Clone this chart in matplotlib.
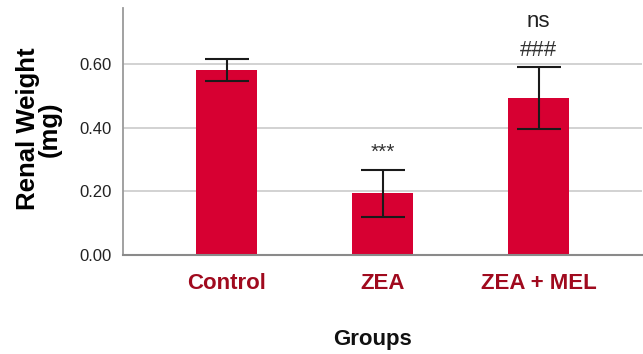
"""
Renal weight by treatment group, bar chart with error bars
"""

import numpy as np
import matplotlib.pyplot as plt

groups = ["Control", "ZEA", "ZEA + MEL"]
means = [0.581, 0.194, 0.493]
errs = [0.034, 0.074, 0.098]
marks = ["", "***", "###"]

plt.rcParams["font.family"] = ["Liberation Sans", "DejaVu Sans"]

fig = plt.figure(figsize=(6.43, 3.54), dpi=100)
ax = fig.add_axes([0.1913, 0.2797, 0.8077, 0.6973])

x = np.arange(len(groups))
ax.bar(x, means, width=0.394, color="#D70032", zorder=2)
ax.errorbar(x, means, yerr=errs, fmt="none", ecolor="#1a1a1a",
            elinewidth=1.5, capsize=16, capthick=1.5, zorder=3)

# significance marks above the error bars
ax.text(x[1], 0.322, marks[1], ha="center", va="center", fontsize=15, color="#333333")
ax.text(x[2], 0.643, marks[2], ha="center", va="center", fontsize=16, color="#333333")
ax.text(x[2], 0.735, "ns", ha="center", va="center", fontsize=16, color="#222222")

ax.set_xlim(-0.665, 2.665)
ax.set_ylim(0, 0.776)
ax.set_yticks([0.0, 0.2, 0.4, 0.6])
ax.set_yticklabels(["0.00", "0.20", "0.40", "0.60"])
ax.yaxis.grid(True, color="#cfcfcf", linewidth=1.3, zorder=0)
ax.set_axisbelow(True)

ax.set_xticks(x)
ax.set_xticklabels(groups, fontsize=16, fontweight="bold", color="#A00A1E")
ax.tick_params(axis="x", length=0, pad=13)
ax.tick_params(axis="y", length=0, pad=8, labelsize=12, labelcolor="#222222")

for s in ["top", "right"]:
    ax.spines[s].set_visible(False)
ax.spines["left"].set_color("#9a9a9a")
ax.spines["bottom"].set_color("#8a8a8a")
ax.spines["left"].set_linewidth(1.3)
ax.spines["bottom"].set_linewidth(1.5)

ax.set_ylabel("Renal Weight\n(mg)", fontsize=18.5, fontweight="bold", linespacing=0.92)
ax.yaxis.set_label_coords(-0.117, 0.51)
ax.set_xlabel("Groups", fontsize=16, fontweight="bold", color="#111111")
ax.xaxis.set_label_coords(0.481, -0.30)

fig.savefig("out.png", dpi=100)
plt.close()
